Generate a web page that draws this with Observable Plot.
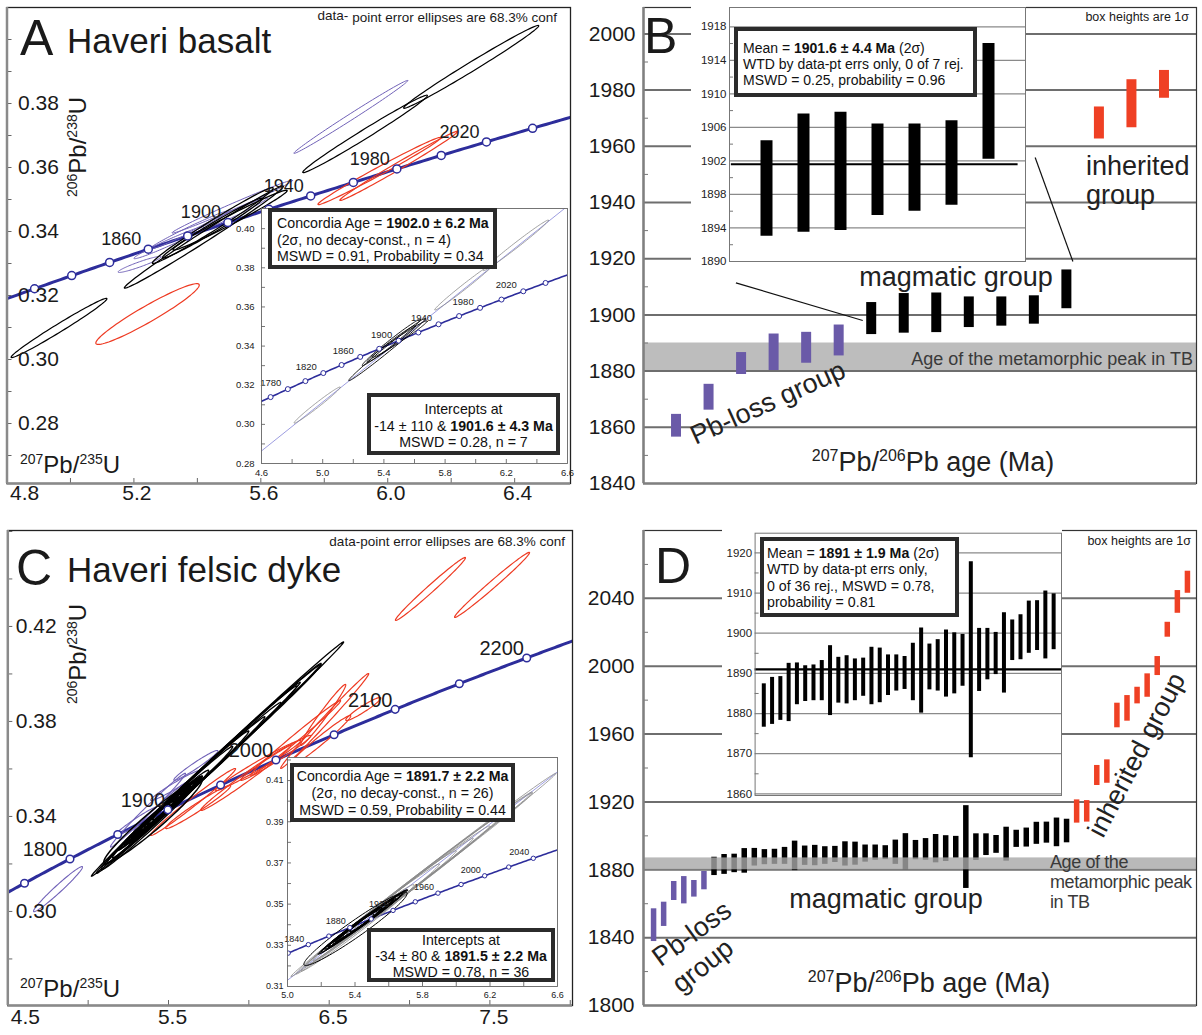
<!DOCTYPE html>
<html>
<head>
<meta charset="utf-8">
<script src="https://cdn.jsdelivr.net/npm/d3@7"></script>
<script src="https://cdn.jsdelivr.net/npm/@observablehq/plot@0.6"></script>
<style>
  html,body{margin:0;padding:0;background:#fff;}
  #root{position:relative;width:1202px;height:1035px;overflow:hidden;background:#fff;font-family:"Liberation Sans",Arial,Helvetica,sans-serif;color:#1a1a1a;}
  #root svg{position:absolute;overflow:visible;}
  .bx{position:absolute;box-sizing:border-box;border:4px solid #2b2b2b;background:#fff;white-space:nowrap;color:#111;}
</style>
</head>
<body>
<div id="root"></div>
<script>
// ---------------- constants ----------------
const L238 = 1.55125e-4;   // decay constant 238U, per Ma
const L235 = 9.8485e-4;    // decay constant 235U, per Ma

// ---------------- Panel A : Haveri basalt (ellipses: [207/235, half-x, 206/238, half-y, rho]) ----------------
const aConcordant = [
  [5.4205, 0.2505, 0.33825, 0.01595, 0.9932],
  [5.4485, 0.1905, 0.34185, 0.01185, 0.9878],
  [5.4475, 0.1575, 0.34105, 0.00935, 0.9845],
  [5.5030, 0.1800, 0.34355, 0.00935, 0.9855]
];
const aExcluded = [
  [4.9640, 0.1510, 0.30985, 0.00925, 0.9870],
  [5.9285, 0.1965, 0.37050, 0.01210, 0.9906],
  [6.2630, 0.2130, 0.39145, 0.01295, 0.9918]
];
const aPbLoss = [
  [5.8835, 0.1795, 0.37580, 0.01140, 0.9952],
  [5.2175, 0.0675, 0.32970, 0.00250, 0.9420],
  [5.5100, 0.1900, 0.34775, 0.00825, 0.9923],
  [5.3750, 0.1250, 0.34050, 0.00600, 0.9850],
  [5.4900, 0.1300, 0.34450, 0.00600, 0.9850],
  [5.3100, 0.1100, 0.33650, 0.00500, 0.9785]
];
const aInherited = [
  [5.2430, 0.1630, 0.31420, 0.00950, 0.9520],
  [5.9735, 0.1935, 0.35890, 0.01050, 0.9907],
  [6.0345, 0.1855, 0.36050, 0.01080, 0.9930]
];
const aConcAges = [1800,1820,1840,1860,1880,1900,1920,1940,1960,1980,2000,2020,2040];
const aConcLabels = [1860,1900,1940,1980,2020];
const aInsetAges = [1760,1780,1800,1820,1840,1860,1880,1900,1920,1940,1960,1980,2000,2020,2040];
const aInsetLabels = [1780,1820,1860,1900,1940,1980,2020];
const aIntercepts = [-14, 1901.6];
const aXTicks = [5.0,5.2,5.4,5.6,5.8,6.0,6.2,6.4];
const aXLabels = [4.8,5.2,5.6,6.0,6.4];
const aYTicks = [0.27,0.28,0.29,0.30,0.31,0.32,0.33,0.34,0.35,0.36,0.37,0.38,0.39,0.40];
const aYLabels = [0.28,0.30,0.32,0.34,0.36,0.38];
const aiXTicks = [4.8,5.0,5.2,5.4,5.6,5.8,6.0,6.2,6.4];
const aiXLabels = [4.6,5.0,5.4,5.8,6.2,6.6];
const aiYTicks = [0.29,0.30,0.31,0.32,0.33,0.34,0.35,0.36,0.37,0.38,0.39,0.40];
const aiYLabels = [0.28,0.30,0.32,0.34,0.36,0.38,0.40];

// ---------------- Panel C : Haveri felsic dyke ----------------
const cConcordant = [
  [5.44, 0.24, 0.3410, 0.0142, 0.990],
  [5.46, 0.22, 0.3422, 0.0130, 0.992],
  [5.42, 0.20, 0.3400, 0.0120, 0.988],
  [5.45, 0.18, 0.3415, 0.0108, 0.990],
  [5.47, 0.16, 0.3425, 0.0098, 0.985],
  [5.43, 0.15, 0.3405, 0.0090, 0.986],
  [5.41, 0.14, 0.3392, 0.0085, 0.984],
  [5.48, 0.19, 0.3432, 0.0112, 0.993],
  [5.44, 0.12, 0.3410, 0.0072, 0.980],
  [5.46, 0.13, 0.3420, 0.0078, 0.982],
  [5.39, 0.17, 0.3382, 0.0100, 0.989],
  [5.50, 0.21, 0.3445, 0.0125, 0.994],
  [5.45, 0.10, 0.3412, 0.0060, 0.975],
  [5.42, 0.11, 0.3398, 0.0066, 0.978],
  [5.47, 0.23, 0.3430, 0.0138, 0.995],
  [5.44, 0.16, 0.3412, 0.0096, 0.991],
  [5.38, 0.13, 0.3375, 0.0078, 0.983],
  [5.52, 0.15, 0.3455, 0.0090, 0.987],
  [5.43, 0.19, 0.3404, 0.0114, 0.993],
  [5.46, 0.09, 0.3418, 0.0054, 0.970],
  [5.40, 0.22, 0.3388, 0.0132, 0.994],
  [5.49, 0.12, 0.3440, 0.0072, 0.981],
  [5.45, 0.26, 0.3414, 0.0155, 0.996],
  [5.42, 0.14, 0.3400, 0.0084, 0.985],
  [5.47, 0.17, 0.3426, 0.0102, 0.990],
  [5.403, 0.306, 0.3380, 0.0178, 0.9636]
];
const cExcluded = [
  [5.805, 0.785, 0.36415, 0.04935, 0.9988],
  [5.775, 0.675, 0.36200, 0.04250, 0.9983],
  [5.725, 0.575, 0.35875, 0.03625, 0.9971],
  [5.575, 0.525, 0.34900, 0.03300, 0.9972],
  [5.785, 0.535, 0.36250, 0.03400, 0.9980],
  [5.650, 0.350, 0.35400, 0.02200, 0.9938],
  [5.415, 0.335, 0.33850, 0.02100, 0.9914],
  [5.775, 0.425, 0.36150, 0.02650, 0.9958],
  [5.510, 0.390, 0.34500, 0.02450, 0.9950],
  [5.925, 0.525, 0.37125, 0.03275, 0.9972]
];
const cPbLoss = [
  [4.8125, 0.1525, 0.30940, 0.00950, 0.977],
  [5.3725, 0.2335, 0.34265, 0.01555, 0.991],
  [5.6700, 0.1370, 0.36150, 0.00630, 0.970],
  [5.4510, 0.1680, 0.34400, 0.01050, 0.9866],
  [5.3110, 0.1400, 0.33830, 0.00630, 0.970],
  [5.5445, 0.1555, 0.35305, 0.00635, 0.972]
];
const cInherited = [
  [5.6530, 0.2645, 0.34610, 0.01410, 0.9884],
  [5.6845, 0.2025, 0.34400, 0.00910, 0.975],
  [5.9800, 0.2800, 0.35620, 0.01370, 0.988],
  [6.0575, 0.2645, 0.36145, 0.01055, 0.9826],
  [6.1670, 0.2180, 0.36465, 0.00945, 0.9828],
  [6.2910, 0.2800, 0.37305, 0.01575, 0.9926],
  [6.4720, 0.2740, 0.38020, 0.02000, 0.9941],
  [6.4380, 0.1960, 0.37155, 0.01095, 0.980],
  [6.4625, 0.1405, 0.38275, 0.01285, 0.981],
  [6.7120, 0.1090, 0.38525, 0.00485, 0.950],
  [7.1300, 0.2180, 0.43580, 0.01326, 0.9888],
  [7.5135, 0.2335, 0.43750, 0.01370, 0.9898]
];
const cConcAges = [1750,1800,1850,1900,1950,2000,2050,2100,2150,2200];
const cConcLabels = [1800,1900,2000,2100,2200];
const cInsetAges = [1820,1840,1860,1880,1900,1920,1940,1960,1980,2000,2020,2040];
const cInsetLabels = [1840,1880,1920,1960,2000,2040];
const cIntercepts = [-34, 1891.5];
const cXTicks = [5.0,5.5,6.0,6.5,7.0,7.5,8.0];
const cXLabels = [4.5,5.5,6.5,7.5];
const cYTicks = [0.28,0.30,0.32,0.34,0.36,0.38,0.40,0.42,0.44,0.46];
const cYLabels = [0.30,0.34,0.38,0.42];
const ciXTicks = [5.2,5.4,5.6,5.8,6.0,6.2,6.4];
const ciXLabels = [5.0,5.4,5.8,6.2,6.6];
const ciYTicks = [0.32,0.33,0.34,0.35,0.36,0.37,0.38,0.39,0.40,0.41,0.42];
const ciYLabels = [0.31,0.33,0.35,0.37,0.39,0.41];

// ---------------- Panel B : 207Pb/206Pb ages, basalt (Ma, 1 sigma boxes) ----------------
const bPbLossLo = [1856.5, 1866.1, 1878.8, 1880.2, 1882.8, 1885.4];
const bPbLossHi = [1864.6, 1875.3, 1886.6, 1893.2, 1893.8, 1896.4];
const bMagLo = [1893.0, 1893.5, 1893.7, 1895.5, 1896.0, 1896.7, 1902.2];
const bMagHi = [1904.4, 1907.6, 1907.8, 1906.4, 1906.4, 1906.8, 1916.0];
const bInhLo = [1962.6, 1966.6, 1977.1];
const bInhHi = [1974.0, 1983.7, 1987.0];
const bMean = 1901.6;
const bPeak = [1880, 1890];
const bGrid = [1860,1880,1900,1920,1940,1960,1980,2000];
const bMinor = [1850,1870,1890,1910,1930,1950,1970,1990];
const bYLabels = [1840,1860,1880,1900,1920,1940,1960,1980,2000];
const biGrid = [1894,1898,1902,1906,1910,1914,1918];
const biMinor = [1892,1896,1900,1904,1908,1912,1916];
const biYLabels = [1890,1894,1898,1902,1906,1910,1914,1918];
const bLeaders = [
  {x1: 2.84, y1: 1911.4, x2: 6.74, y2: 1898.0},
  {x1: 12.04, y1: 1956.0, x2: 13.2, y2: 1919.0}
];

// ---------------- Panel D : 207Pb/206Pb ages, felsic dyke ----------------
const dPbLossLo = [1837.7, 1846.6, 1861.9, 1859.9, 1863.9, 1868.2];
const dPbLossHi = [1857.0, 1860.9, 1873.1, 1876.0, 1873.7, 1879.0];
const dMagLo = [1876.6,1877.3,1878.3,1878.0,1882.2,1883.0,1883.2,1883.2,1879.5,1882.6,1882.4,1883.2,1884.3,1882.2,1882.7,1884.5,1885.6,1886.0,1883.2,1880.1,1885.9,1885.6,1884.1,1884.9,1886.8,1869.0,1885.5,1888.4,1889.7,1885.1,1893.2,1893.4,1895.0,1895.7,1893.6,1895.9];
const dMagHi = [1887.4,1889.0,1889.2,1892.5,1892.6,1891.9,1892.1,1893.2,1896.9,1894.0,1894.4,1893.6,1893.8,1896.5,1896.3,1894.6,1894.6,1894.2,1897.5,1901.3,1897.3,1898.4,1900.8,1900.1,1899.7,1917.8,1901.2,1901.2,1900.2,1905.1,1903.3,1904.6,1908.0,1908.1,1910.5,1909.8];
const dInhLo = [1907.5, 1908.1, 1929.7, 1931.0, 1963.7, 1967.6, 1977.8, 1981.7, 1994.5, 2017.1, 2031.2, 2043.0];
const dInhHi = [1921.2, 1920.8, 1941.5, 1944.8, 1978.2, 1982.7, 1987.6, 1995.5, 2005.7, 2025.9, 2044.6, 2056.0];
const dMean = 1891;
const dPeak = [1880, 1887];
const dGrid = [1840,1880,1920,1960,2000,2040];
const dMinor = [1820,1860,1900,1940,1980,2020,2060];
const dYLabels = [1800,1840,1880,1920,1960,2000,2040];
const diGrid = [1860,1870,1880,1890,1900,1910,1920];
const diMinor = [1865,1875,1885,1895,1905,1915];
const diYLabels = [1860,1870,1880,1890,1900,1910,1920];

// ---------------- helpers ----------------
const FONT = '"Liberation Sans", Arial, Helvetica, sans-serif';
const BLUE = "#2d2d9b";
const PURPLE_E = "#7162b8";
const RED_E = "#ee3a22";
const PURPLE_B = "#6a5aa8";
const RED_B = "#ef4024";
const root = document.getElementById("root");

const conc = t => ({t, x: Math.expm1(L235 * t), y: Math.expm1(L238 * t)});
function curve(t0, t1) { const a = []; for (let t = t0; t <= t1; t += 2) a.push(conc(t)); return a; }
function ellPts(list, tag) {
  const out = [];
  list.forEach(([x, sx, y, sy, r], i) => {
    const q = Math.sqrt(1 - r * r);
    for (let k = 0; k < 96; k++) {
      const a = 2 * Math.PI * k / 96;
      out.push({id: tag + i, x: x + sx * Math.cos(a), y: y + sy * (r * Math.cos(a) + q * Math.sin(a))});
    }
  });
  return out;
}
const ell = (list, tag, stroke, sw) => Plot.line(ellPts(list, tag), {x: "x", y: "y", z: "id", stroke, strokeWidth: sw, curve: "linear-closed", clip: true});
function discordia([tl, tu], ext) {
  const a = conc(tl), b = conc(tu);
  return [a, {x: a.x + ext * (b.x - a.x), y: a.y + ext * (b.y - a.y)}];
}
function mount(svg, left, top) { svg.style.left = left + "px"; svg.style.top = top + "px"; root.appendChild(svg); }
const rows = (lo, hi, off) => lo.map((v, j) => ({i: off + j + 1, lo: v, hi: hi[j]}));
const sup = (s, fs, up) => `<span style="font-size:${fs}px;position:relative;top:-${up}px">${s}</span>`;
function T(html, x, base, fs, anchor = "start", extra = {}) {
  const d = document.createElement("div");
  d.innerHTML = html;
  Object.assign(d.style, {position: "absolute", left: x + "px", top: (base - 0.8465 * fs) + "px", fontSize: fs + "px", lineHeight: fs + "px", whiteSpace: "nowrap"}, extra);
  if (anchor === "middle") d.style.transform = "translateX(-50%)";
  else if (anchor === "end") d.style.transform = "translateX(-100%)";
  root.appendChild(d);
}
function Rt(html, cx, cy, fs, deg, extra = {}) {
  const d = document.createElement("div");
  d.innerHTML = html;
  Object.assign(d.style, {position: "absolute", left: cx + "px", top: cy + "px", fontSize: fs + "px", lineHeight: fs + "px", whiteSpace: "nowrap", transform: `translate(-50%,-50%) rotate(${deg}deg)`}, extra);
  root.appendChild(d);
}
function Box(lines, left, top, w, h, fs, lh, align, pad) {
  const d = document.createElement("div");
  d.className = "bx";
  d.innerHTML = lines.join("<br>");
  Object.assign(d.style, {left: left + "px", top: top + "px", width: w + "px", height: h + "px", fontSize: fs + "px", lineHeight: lh + "px", textAlign: align, padding: pad});
  root.appendChild(d);
}
const f2 = d => d.toFixed(2), f1 = d => d.toFixed(1);

// ---------------- Panel A main ----------------
mount(Plot.plot({
  width: 580, height: 515, marginLeft: 6.5, marginRight: 10, marginTop: 7, marginBottom: 32,
  x: {domain: [4.8, 6.576]}, y: {domain: [0.26125, 0.41]},
  style: {fontFamily: FONT, background: "white", color: "#1a1a1a", overflow: "visible"},
  marks: [
    Plot.line(curve(1740, 2100), {x: "x", y: "y", stroke: BLUE, strokeWidth: 3, clip: true}),
    ell(aInherited, "ai", RED_E, 1.2),
    ell(aPbLoss, "ap", PURPLE_E, 1.0),
    ell(aExcluded, "ax", "#000", 1.2),
    ell(aConcordant, "ac", "#000", 1.3),
    Plot.dot(aConcAges.map(conc), {x: "x", y: "y", r: 4, fill: "white", stroke: BLUE, strokeWidth: 1.5, clip: true}),
    Plot.text(aConcLabels.map(conc), {x: "x", y: "y", text: d => String(d.t), dx: -27, dy: -10, fontSize: 18}),
    Plot.axisX(aXTicks, {tickSize: 5, dy: -5, fill: "none", stroke: "#666", label: null}),
    Plot.axisY(aYTicks, {tickSize: 5, dx: 5, fill: "none", stroke: "#666", label: null}),
    Plot.text(aYLabels, {y: d => d, frameAnchor: "left", textAnchor: "start", dx: 11, fontSize: 21, text: f2}),
    Plot.text(aXLabels.slice(0, 1), {x: d => d, frameAnchor: "bottom", textAnchor: "start", dx: 3, dy: 16, fontSize: 21, text: f1}),
    Plot.text(aXLabels.slice(1), {x: d => d, frameAnchor: "bottom", dx: 3, dy: 16, fontSize: 21, text: f1}),
    Plot.frame({stroke: "#222", strokeWidth: 1.3}),
    Plot.ruleX([4.8], {stroke: "#8a8a8a", strokeWidth: 2.5}),
    Plot.ruleY([0.26125], {stroke: "#8a8a8a", strokeWidth: 2.5})
  ]
}), 0, 0);

// ---------------- Panel C main ----------------
mount(Plot.plot({
  width: 580, height: 515, marginLeft: 7.3, marginRight: 8, marginTop: 10, marginBottom: 30,
  x: {domain: [4.5, 8.014]}, y: {domain: [0.2604, 0.4604]},
  style: {fontFamily: FONT, background: "white", color: "#1a1a1a", overflow: "visible"},
  marks: [
    Plot.line(curve(1700, 2300), {x: "x", y: "y", stroke: BLUE, strokeWidth: 3, clip: true}),
    ell(cInherited, "ci", RED_E, 1.2),
    ell(cPbLoss, "cp", PURPLE_E, 1.1),
    ell(cExcluded, "cx", "#000", 1.3),
    ell(cConcordant, "cc", "#000", 1.5),
    Plot.dot(cConcAges.map(conc), {x: "x", y: "y", r: 3.8, fill: "white", stroke: BLUE, strokeWidth: 1.5, clip: true}),
    Plot.text(cConcLabels.map(conc), {x: "x", y: "y", text: d => String(d.t), dx: -25, dy: -9, fontSize: 20}),
    Plot.axisX(cXTicks, {tickSize: 5, dy: -5, fill: "none", stroke: "#666", label: null}),
    Plot.axisY(cYTicks, {tickSize: 5, dx: 5, fill: "none", stroke: "#666", label: null}),
    Plot.text(cYLabels, {y: d => d, frameAnchor: "left", textAnchor: "start", dx: 8, fontSize: 21, text: f2}),
    Plot.text(cXLabels.slice(0, 1), {x: d => d, frameAnchor: "bottom", textAnchor: "start", dx: 3, dy: 18, fontSize: 21, text: f1}),
    Plot.text(cXLabels.slice(1), {x: d => d, frameAnchor: "bottom", dx: 4, dy: 18, fontSize: 21, text: f1}),
    Plot.frame({stroke: "#222", strokeWidth: 1.3}),
    Plot.ruleX([4.5], {stroke: "#8a8a8a", strokeWidth: 2.5}),
    Plot.ruleY([0.2604], {stroke: "#8a8a8a", strokeWidth: 2.5})
  ]
}), 0, 520);

// ---------------- Panel B main ----------------
mount(Plot.plot({
  width: 622, height: 500, marginLeft: 63, marginRight: 6, marginTop: 7, marginBottom: 17,
  x: {domain: [0, 17], axis: null}, y: {domain: [1840, 2009.4]},
  style: {fontFamily: FONT, background: "white", color: "#1a1a1a", overflow: "visible"},
  marks: [
    Plot.rect([{lo: bPeak[0], hi: bPeak[1]}], {x1: 0, x2: 17, y1: "lo", y2: "hi", fill: "#bdbdbd"}),
    Plot.ruleY(bGrid, {stroke: "#6e6e6e", strokeWidth: 2}),
    Plot.ruleX(rows(bPbLossLo, bPbLossHi, 0), {x: "i", y1: "lo", y2: "hi", stroke: PURPLE_B, strokeWidth: 10}),
    Plot.ruleX(rows(bMagLo, bMagHi, 6), {x: "i", y1: "lo", y2: "hi", stroke: "#000", strokeWidth: 10}),
    Plot.ruleX(rows(bInhLo, bInhHi, 13), {x: "i", y1: "lo", y2: "hi", stroke: RED_B, strokeWidth: 10}),
    Plot.link(bLeaders, {x1: "x1", y1: "y1", x2: "x2", y2: "y2", stroke: "#111", strokeWidth: 1.2}),
    Plot.axisY(bMinor, {tickSize: 5, dx: 5, fill: "none", stroke: "#777", label: null}),
    Plot.text(bYLabels, {y: d => d, frameAnchor: "left", textAnchor: "end", dx: -8, fontSize: 21, text: d => String(d)}),
    Plot.frame({stroke: "#333", strokeWidth: 1.2}),
    Plot.ruleX([0], {stroke: "#808080", strokeWidth: 2.5}),
    Plot.ruleY([1840], {stroke: "#808080", strokeWidth: 2.5})
  ]
}), 580, 0);

// ---------------- Panel D main ----------------
mount(Plot.plot({
  width: 622, height: 515, marginLeft: 63, marginRight: 6, marginTop: 10, marginBottom: 30,
  x: {domain: [0, 54.9], axis: null}, y: {domain: [1800, 2080]},
  style: {fontFamily: FONT, background: "white", color: "#1a1a1a", overflow: "visible"},
  marks: [
    Plot.ruleY(dGrid, {stroke: "#6e6e6e", strokeWidth: 2}),
    Plot.ruleX(rows(dPbLossLo, dPbLossHi, 0), {x: "i", y1: "lo", y2: "hi", stroke: PURPLE_B, strokeWidth: 5.5}),
    Plot.ruleX(rows(dMagLo, dMagHi, 6), {x: "i", y1: "lo", y2: "hi", stroke: "#000", strokeWidth: 5.5}),
    Plot.ruleX(rows(dInhLo, dInhHi, 42), {x: "i", y1: "lo", y2: "hi", stroke: RED_B, strokeWidth: 5.5}),
    Plot.rect([{lo: dPeak[0], hi: dPeak[1]}], {x1: 0, x2: 54.9, y1: "lo", y2: "hi", fill: "#a8a8a8", fillOpacity: 0.8}),
    Plot.axisY(dMinor, {tickSize: 5, dx: 5, fill: "none", stroke: "#777", label: null}),
    Plot.text(dYLabels, {y: d => d, frameAnchor: "left", textAnchor: "end", dx: -9, fontSize: 21, text: d => String(d)}),
    Plot.frame({stroke: "#333", strokeWidth: 1.2}),
    Plot.ruleX([0], {stroke: "#808080", strokeWidth: 2.5}),
    Plot.ruleY([1800], {stroke: "#808080", strokeWidth: 2.5})
  ]
}), 580, 520);

// ---------------- Panel A inset ----------------
mount(Plot.plot({
  width: 355, height: 283, marginLeft: 41, marginRight: 8, marginTop: 8, marginBottom: 20,
  x: {domain: [4.6, 6.6]}, y: {domain: [0.28, 0.4103]},
  style: {fontFamily: FONT, background: "transparent", color: "#222", overflow: "visible"},
  marks: [
    Plot.frame({fill: "white", stroke: "none"}),
    Plot.line(discordia(aIntercepts, 1.3), {x: "x", y: "y", stroke: "#8484d8", strokeWidth: 0.8, clip: true}),
    Plot.line(curve(1700, 2100), {x: "x", y: "y", stroke: BLUE, strokeWidth: 1.6, clip: true}),
    ell(aExcluded, "aix", "#8a8a8a", 0.8),
    ell(aConcordant, "aic", "#000", 0.9),
    Plot.dot(aInsetAges.map(conc), {x: "x", y: "y", r: 2.5, fill: "white", stroke: BLUE, strokeWidth: 1, clip: true}),
    Plot.text(aInsetLabels.map(conc), {x: "x", y: "y", text: d => String(d.t), dx: -17, dy: -6, fontSize: 9.5}),
    Plot.axisX(aiXTicks, {tickSize: 4, dy: -4, fill: "none", stroke: "#777", label: null}),
    Plot.axisY(aiYTicks, {tickSize: 4, dx: 4, fill: "none", stroke: "#777", label: null}),
    Plot.text(aiYLabels, {y: d => d, frameAnchor: "left", textAnchor: "end", dx: -7, fontSize: 9.5, text: f2}),
    Plot.text(aiXLabels, {x: d => d, frameAnchor: "bottom", dy: 12, fontSize: 9.5, text: f1}),
    Plot.frame({stroke: "#666", strokeWidth: 0.9})
  ]
}), 220, 200);

// ---------------- Panel C inset ----------------
mount(Plot.plot({
  width: 312, height: 256, marginLeft: 37, marginRight: 5, marginTop: 7, marginBottom: 20,
  x: {domain: [5.0, 6.6]}, y: {domain: [0.31, 0.4212]},
  style: {fontFamily: FONT, background: "transparent", color: "#222", overflow: "visible"},
  marks: [
    Plot.frame({fill: "white", stroke: "none"}),
    Plot.line(discordia(cIntercepts, 1.3), {x: "x", y: "y", stroke: "#8484d8", strokeWidth: 0.8, clip: true}),
    Plot.line(curve(1780, 2100), {x: "x", y: "y", stroke: BLUE, strokeWidth: 1.6, clip: true}),
    ell(cExcluded, "cix", "#8a8a8a", 0.8),
    ell(cConcordant, "cic", "#000", 1.0),
    Plot.dot(cInsetAges.map(conc), {x: "x", y: "y", r: 2.2, fill: "white", stroke: BLUE, strokeWidth: 1, clip: true}),
    Plot.text(cInsetLabels.map(conc), {x: "x", y: "y", text: d => String(d.t), dx: -14, dy: -6, fontSize: 9}),
    Plot.axisX(ciXTicks, {tickSize: 4, dy: -4, fill: "none", stroke: "#777", label: null}),
    Plot.axisY(ciYTicks, {tickSize: 4, dx: 4, fill: "none", stroke: "#777", label: null}),
    Plot.text(ciYLabels, {y: d => d, frameAnchor: "left", textAnchor: "end", dx: -4, fontSize: 9, text: f2}),
    Plot.text(ciXLabels, {x: d => d, frameAnchor: "bottom", dy: 11, fontSize: 9, text: f1}),
    Plot.frame({stroke: "#666", strokeWidth: 0.9})
  ]
}), 250, 750);

// ---------------- Panel B inset ----------------
mount(Plot.plot({
  width: 335, height: 262, marginLeft: 38, marginRight: 1, marginTop: 7, marginBottom: 1,
  x: {domain: [0, 8], axis: null}, y: {domain: [1890, 1920.3]},
  style: {fontFamily: FONT, background: "white", color: "#222", overflow: "visible"},
  marks: [
    Plot.ruleY(biGrid, {stroke: "#8a8a8a", strokeWidth: 1.2}),
    Plot.ruleY([bMean], {x1: 0.05, x2: 7.8, stroke: "#000", strokeWidth: 2}),
    Plot.ruleX(rows(bMagLo, bMagHi, 0), {x: "i", y1: "lo", y2: "hi", stroke: "#000", strokeWidth: 12}),
    Plot.axisY(biMinor, {tickSize: 4, dx: 4, fill: "none", stroke: "#777", label: null}),
    Plot.text(biYLabels, {y: d => d, frameAnchor: "left", textAnchor: "end", dx: -3, fontSize: 11.5, text: d => String(d)}),
    Plot.frame({stroke: "#777", strokeWidth: 1})
  ]
}), 691, 0);

// ---------------- Panel D inset ----------------
mount(Plot.plot({
  width: 340, height: 277, marginLeft: 32.6, marginRight: 1, marginTop: 12.7, marginBottom: 2,
  x: {domain: [-0.05, 36.95], axis: null}, y: {domain: [1859.6, 1924.9]},
  style: {fontFamily: FONT, background: "white", color: "#222", overflow: "visible"},
  marks: [
    Plot.ruleY(diGrid, {stroke: "#8a8a8a", strokeWidth: 1.2}),
    Plot.ruleY([dMean], {stroke: "#000", strokeWidth: 2.2}),
    Plot.ruleX(rows(dMagLo, dMagHi, 0), {x: "i", y1: "lo", y2: "hi", stroke: "#000", strokeWidth: 4}),
    Plot.axisY(diMinor, {tickSize: 4, dx: 4, fill: "none", stroke: "#777", label: null}),
    Plot.text(diYLabels, {y: d => d, frameAnchor: "left", textAnchor: "end", dx: -3, fontSize: 11.5, text: d => String(d)}),
    Plot.frame({stroke: "#777", strokeWidth: 1})
  ]
}), 722, 520);

// ---------------- text: panel A ----------------
T("A", 20, 55, 50);
T("Haveri basalt", 67, 53, 35);
T('<span style="position:relative;top:-2px">data-</span> point error ellipses are 68.3% conf', 557, 22, 13.5, "end");
Rt(`${sup("206", 14, 9)}Pb/${sup("238", 14, 9)}U`, 79, 147, 24, -90);
T(`${sup("207", 14, 9)}Pb/${sup("235", 14, 9)}U`, 20, 473, 24);
Box(["Concordia Age = <b>1902.0 ± 6.2 Ma</b>", "(2σ, no decay-const., n = 4)", "MSWD = 0.91, Probability = 0.34"],
    268, 208, 229, 61, 14.2, 16.5, "left", "3px 0 0 5px");
Box(["Intercepts at", "-14 ± 110 &amp; <b>1901.6 ± 4.3 Ma</b>", "MSWD = 0.28, n = 7"],
    367, 393, 193, 62, 14.2, 16.5, "center", "4px 0 0 0");

// ---------------- text: panel B ----------------
T("B", 644, 53, 50);
T("box heights are 1σ", 1189, 22, 12.5, "end");
T("inherited", 1086, 176, 27, "start", {color: "#222"});
T("group", 1086, 205, 27, "start", {color: "#222"});
T("magmatic group", 956, 287, 27, "middle", {color: "#222"});
T("Age of the metamorphic peak in TB", 1193, 365, 18, "end", {color: "#3a3a3a"});
T(`${sup("207", 16, 10)}Pb/${sup("206", 16, 10)}Pb age (Ma)`, 933, 472, 27, "middle", {color: "#222"});
Rt("Pb-loss group", 768, 403, 27, -24.3, {color: "#222"});
Box(["Mean = <b>1901.6 ± 4.4 Ma</b> (2σ)", "WTD by data-pt errs only, 0 of 7 rej.", "MSWD = 0.25, probability = 0.96"],
    734, 27, 243, 70, 14, 16, "left", "9px 0 0 5px");

// ---------------- text: panel C ----------------
T("C", 16, 585, 50);
T("Haveri felsic dyke", 67, 582, 35);
T("data-point error ellipses are 68.3% conf", 565, 546, 13.5, "end");
Rt(`${sup("206", 14, 9)}Pb/${sup("238", 14, 9)}U`, 79, 654, 24, -90);
T(`${sup("207", 14, 9)}Pb/${sup("235", 14, 9)}U`, 20, 997, 24);
Box(["Concordia Age = <b>1891.7 ± 2.2 Ma</b>", "(2σ, no decay-const., n = 26)", "MSWD = 0.59, Probability = 0.44"],
    290, 763, 225, 59, 14.2, 17, "center", "1px 0 0 0");
Box(["Intercepts at", "-34 ± 80 &amp; <b>1891.5 ± 2.2 Ma</b>", "MSWD = 0.78, n = 36"],
    367, 928, 188, 54, 14.2, 16, "center", "0");

// ---------------- text: panel D ----------------
T("D", 655, 583, 50);
T("box heights are 1σ", 1191, 546, 12.5, "end");
T("Age of the", 1050, 868, 18, "start", {color: "#3a3a3a", letterSpacing: "-0.4px"});
T("metamorphic peak", 1050, 888, 18, "start", {color: "#3a3a3a", letterSpacing: "-0.4px"});
T("in TB", 1050, 908, 18, "start", {color: "#3a3a3a", letterSpacing: "-0.4px"});
T("magmatic group", 886, 909, 27, "middle", {color: "#222"});
T(`${sup("207", 16, 10)}Pb/${sup("206", 16, 10)}Pb age (Ma)`, 929, 993, 27, "middle", {color: "#222"});
Rt("Pb-loss", 692, 934, 27, -36, {color: "#222"});
Rt("group", 703, 966, 27, -38, {color: "#222"});
Rt("inherited group", 1137, 755, 27, -62.6, {color: "#222"});
Box(["Mean = <b>1891 ± 1.9 Ma</b> (2σ)", "WTD by data-pt errs only,", "0 of 36 rej., MSWD = 0.78,", "probability = 0.81"],
    760, 537, 199, 80, 14.2, 16.4, "left", "4px 0 0 3px");
</script>
</body>
</html>
